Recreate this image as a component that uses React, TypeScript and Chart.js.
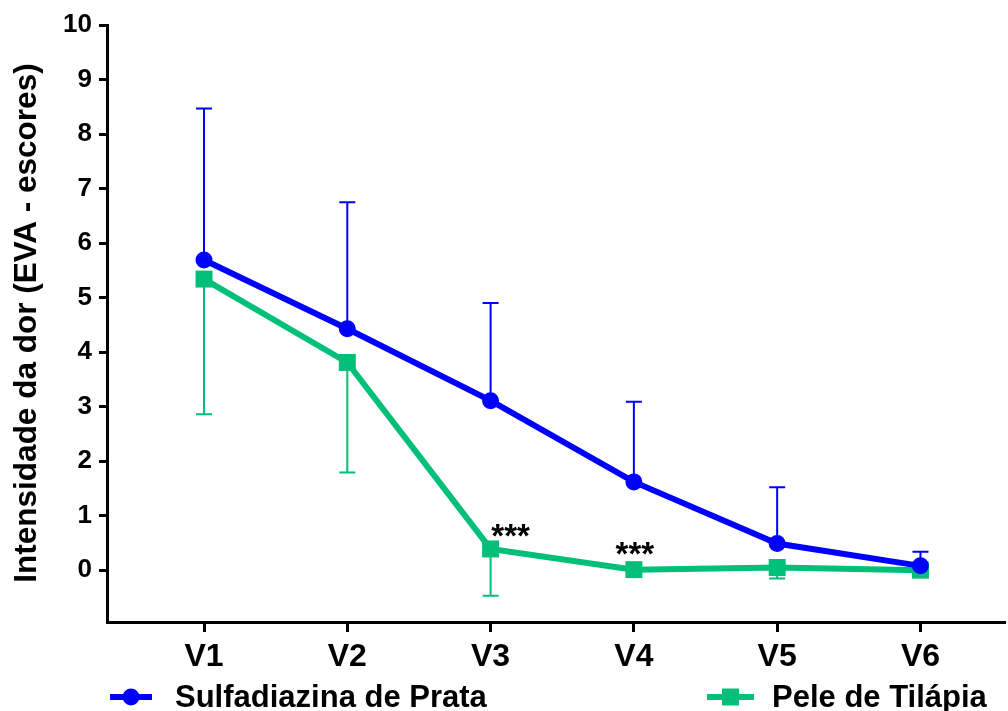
import React, { useEffect, useRef } from "react";
import { Chart, registerables } from "chart.js";

Chart.register(...registerables);

const categories = ["V1", "V2", "V3", "V4", "V5", "V6"];
const sulfaMean = [5.69, 4.43, 3.11, 1.62, 0.49, 0.08];
const sulfaUpper = [8.47, 6.75, 4.9, 3.09, 1.52, 0.34];
const tilapiaMean = [5.34, 3.81, 0.39, 0.01, 0.05, 0.0];
const tilapiaLower = [2.86, 1.79, -0.47, 0.01, -0.15, 0.0];
const significance = ["", "", "***", "***", "", ""];
const yTicks = [0, 1, 2, 3, 4, 5, 6, 7, 8, 9, 10];
const seriesNames = ["Sulfadiazina de Prata", "Pele de Tilápia"];
const yTitle = "Intensidade da dor (EVA - escores)";

const BLUE = "#0000FF";
const GREEN = "#00BF78";
const FONT = "'Liberation Sans', Arial, Helvetica, sans-serif";

const errorBarPlugin = {
  id: "errorBars",
  beforeDatasetsDraw(chart: any) {
    const ctx = chart.ctx;
    const xs = chart.scales.x;
    const ys = chart.scales.y;
    const draw = (means: number[], ends: number[], color: string) => {
      ctx.save();
      ctx.strokeStyle = color;
      ctx.lineWidth = 2;
      means.forEach((m, i) => {
        if (Math.abs(ends[i] - m) < 1e-6) return;
        const px = xs.getPixelForValue(i + 1);
        const y0 = ys.getPixelForValue(m);
        const y1 = ys.getPixelForValue(ends[i]);
        ctx.beginPath();
        ctx.moveTo(px, y0);
        ctx.lineTo(px, y1);
        ctx.moveTo(px - 8, y1);
        ctx.lineTo(px + 8, y1);
        ctx.stroke();
      });
      ctx.restore();
    };
    draw(sulfaMean, sulfaUpper, BLUE);
    draw(tilapiaMean, tilapiaLower, GREEN);
  },
};

const annotPlugin = {
  id: "annot",
  afterDatasetsDraw(chart: any) {
    const ctx = chart.ctx;
    const xs = chart.scales.x;
    const ys = chart.scales.y;
    const offsets: Record<number, [number, number]> = { 2: [20, -2], 3: [1, -5] };
    ctx.save();
    ctx.fillStyle = "#000";
    ctx.font = `bold 33px ${FONT}`;
    ctx.textAlign = "center";
    ctx.textBaseline = "alphabetic";
    significance.forEach((s, i) => {
      if (!s) return;
      const px = xs.getPixelForValue(i + 1);
      const py = ys.getPixelForValue(tilapiaMean[i]);
      const off = offsets[i] || [0, 0];
      ctx.fillText(s, px + off[0], py + off[1]);
    });
    ctx.restore();
  },
  afterDraw(chart: any) {
    const ctx = chart.ctx;
    ctx.save();
    // y axis title
    ctx.translate(27, 323);
    ctx.rotate(-Math.PI / 2);
    ctx.fillStyle = "#000";
    ctx.font = `bold 31.5px ${FONT}`;
    ctx.textAlign = "center";
    ctx.textBaseline = "middle";
    ctx.fillText(yTitle, 0, 0);
    ctx.restore();

    // legend
    ctx.save();
    const ly = 697;
    ctx.lineWidth = 6;
    ctx.strokeStyle = BLUE;
    ctx.beginPath();
    ctx.moveTo(110, ly);
    ctx.lineTo(152, ly);
    ctx.stroke();
    ctx.fillStyle = BLUE;
    ctx.beginPath();
    ctx.arc(131, ly, 8.5, 0, Math.PI * 2);
    ctx.fill();

    ctx.strokeStyle = GREEN;
    ctx.beginPath();
    ctx.moveTo(707, ly);
    ctx.lineTo(754, ly);
    ctx.stroke();
    ctx.fillStyle = GREEN;
    ctx.fillRect(730.5 - 8.5, ly - 8.5, 17, 17);

    ctx.fillStyle = "#000";
    ctx.font = `bold 31px ${FONT}`;
    ctx.textAlign = "left";
    ctx.textBaseline = "alphabetic";
    ctx.fillText(seriesNames[0], 175, 707);
    ctx.fillText(seriesNames[1], 772, 707);
    ctx.restore();
  },
};

export default function App() {
  const ref = useRef<HTMLCanvasElement | null>(null);
  useEffect(() => {
    if (!ref.current) return;
    const chart = new Chart(ref.current, {
      type: "line",
      data: {
        datasets: [
          {
            label: seriesNames[0],
            data: sulfaMean.map((y, i) => ({ x: i + 1, y })),
            borderColor: BLUE,
            backgroundColor: BLUE,
            borderWidth: 6,
            pointStyle: "circle",
            pointRadius: 8.5,
            pointBorderWidth: 0,
            pointBackgroundColor: BLUE,
            tension: 0,
          },
          {
            label: seriesNames[1],
            data: tilapiaMean.map((y, i) => ({ x: i + 1, y })),
            borderColor: GREEN,
            backgroundColor: GREEN,
            borderWidth: 6,
            pointStyle: "rect",
            pointRadius: 12,
            pointBorderWidth: 0,
            pointBackgroundColor: GREEN,
            tension: 0,
          },
        ],
      },
      options: {
        responsive: false,
        animation: false,
        layout: { autoPadding: false, padding: { top: 25, right: 3, bottom: 0, left: 0 } },
        plugins: {
          legend: { display: false },
          tooltip: { enabled: false },
        },
        scales: {
          x: {
            type: "linear",
            min: 0.323,
            max: 6.59,
            afterBuildTicks: (s: any) => {
              s.ticks = categories.map((_, i) => ({ value: i + 1 }));
            },
            afterFit: (s: any) => {
              s.height = 89;
              s.paddingLeft = 0;
              s.paddingRight = 0;
            },
            border: { display: true, color: "#000", width: 3 },
            grid: {
              display: true,
              drawOnChartArea: false,
              drawTicks: true,
              tickLength: 10,
              tickWidth: 3,
              tickColor: "#000",
            },
            ticks: {
              autoSkip: false,
              maxRotation: 0,
              padding: 6,
              color: "#000",
              font: { family: FONT, size: 32, weight: "bold" },
              callback: (v: any) => categories[Math.round(v) - 1] ?? "",
            },
          },
          y: {
            type: "linear",
            min: -0.95,
            max: 10,
            afterBuildTicks: (s: any) => {
              s.ticks = yTicks.map((v) => ({ value: v }));
            },
            afterFit: (s: any) => {
              s.width = 107;
              s.paddingTop = 0;
              s.paddingBottom = 0;
            },
            border: { display: true, color: "#000", width: 3 },
            grid: {
              display: true,
              drawOnChartArea: false,
              drawTicks: true,
              tickLength: 8,
              tickWidth: 3,
              tickColor: "#000",
            },
            ticks: {
              padding: 7,
              color: "#000",
              font: { family: FONT, size: 26, weight: "bold" },
              callback: (v: any) => String(v),
            },
          },
        },
      },
      plugins: [errorBarPlugin, annotPlugin],
    } as any);
    return () => chart.destroy();
  }, []);
  return (
    <div style={{ position: "fixed", left: 0, top: 0, width: 1008, height: 711, background: "#fff" }}>
      <canvas ref={ref} width={1008} height={711} style={{ display: "block" }} />
    </div>
  );
}
